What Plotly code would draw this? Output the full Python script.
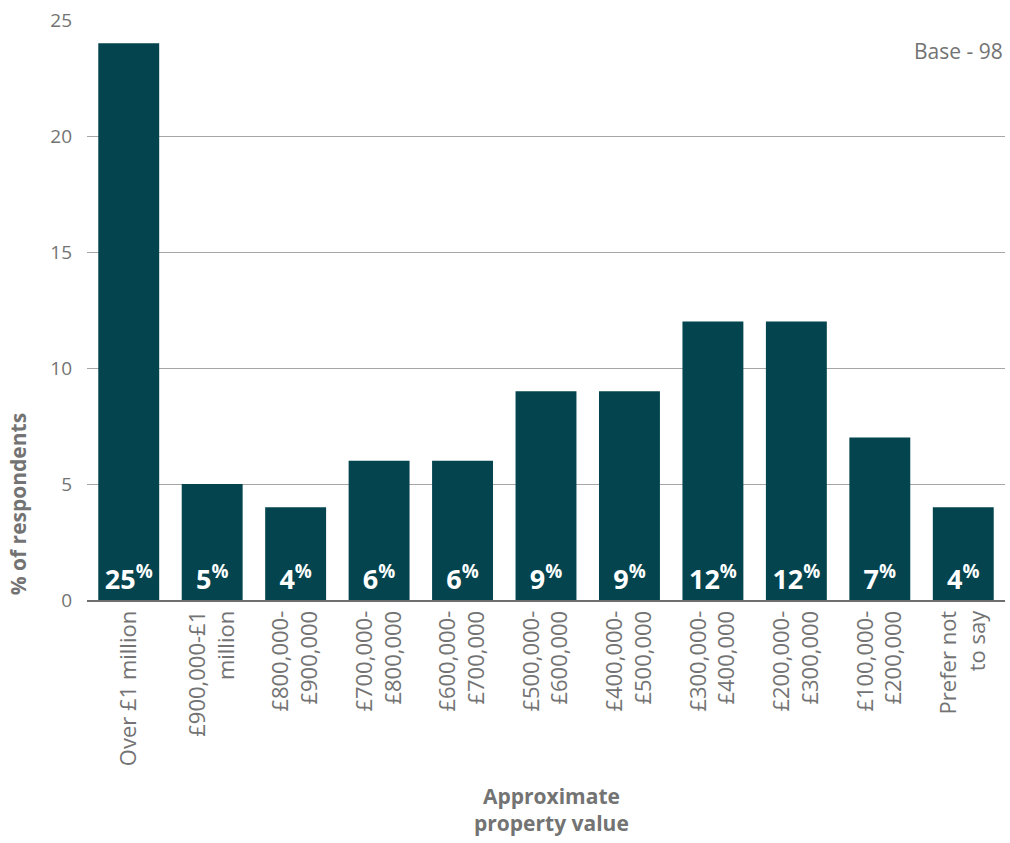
import plotly.graph_objects as go

categories = [
    "Over £1 million",
    "£900,000-£1<br>million",
    "£800,000-<br>£900,000",
    "£700,000-<br>£800,000",
    "£600,000-<br>£700,000",
    "£500,000-<br>£600,000",
    "£400,000-<br>£500,000",
    "£300,000-<br>£400,000",
    "£200,000-<br>£300,000",
    "£100,000-<br>£200,000",
    "Prefer not<br>to say",
]
bar_values = [24, 5, 4, 6, 6, 9, 9, 12, 12, 7, 4]
bar_labels = ["25", "5", "4", "6", "6", "9", "9", "12", "12", "7", "4"]
y_ticks = [0, 5, 10, 15, 20, 25]

GRAY = "#737373"
BAR = "#03444f"
FONT = "Open Sans, Noto Sans, sans-serif"

fig = go.Figure(
    go.Bar(
        x=categories,
        y=bar_values,
        text=[f"{t}<sup>%</sup>" for t in bar_labels],
        textposition="inside",
        insidetextanchor="start",
        constraintext="none",
        textangle=0,
        textfont=dict(family=FONT, size=27, color="white", weight="bold"),
        marker=dict(color=BAR, line=dict(width=0)),
        width=0.73,
        hoverinfo="skip",
    )
)

fig.update_layout(
    width=1010,
    height=843,
    margin=dict(l=87, r=5, t=20, b=243),
    plot_bgcolor="white",
    paper_bgcolor="white",
    showlegend=False,
    font=dict(family=FONT, color=GRAY),
    xaxis=dict(
        type="category",
        tickangle=-90,
        tickfont=dict(family=FONT, size=22, color=GRAY),
        showgrid=False,
        showline=True,
        linecolor="#6e6e6e",
        linewidth=2,
        ticks="",
    ),
    yaxis=dict(
        range=[0, 25],
        tickvals=y_ticks,
        tickfont=dict(family=FONT, size=19, color=GRAY),
        showgrid=True,
        gridcolor="#a6a6a6",
        gridwidth=1,
        zeroline=False,
        showline=False,
        ticks="",
        ticklabelstandoff=14,
    ),
    annotations=[
        dict(
            text="Base - 98",
            xref="paper", yref="paper", x=1.0, y=0.975,
            xanchor="right", yanchor="top", showarrow=False,
            font=dict(family=FONT, size=21, color=GRAY),
        ),
        dict(
            text="Approximate<br>property value",
            xref="paper", yref="paper", x=0.506, y=-0.31,
            xanchor="center", yanchor="top", showarrow=False,
            font=dict(family=FONT, size=21, color=GRAY, weight="bold"),
        ),
        dict(
            text="% of respondents",
            xref="paper", yref="paper", x=-0.058, y=0.005,
            xanchor="right", yanchor="bottom", textangle=-90, showarrow=False,
            font=dict(family=FONT, size=21, color=GRAY, weight="bold"),
        ),
    ],
)

fig.write_html(
    "out.html",
    config={"displayModeBar": False},
    post_script="document.body.style.margin='0';",
)
